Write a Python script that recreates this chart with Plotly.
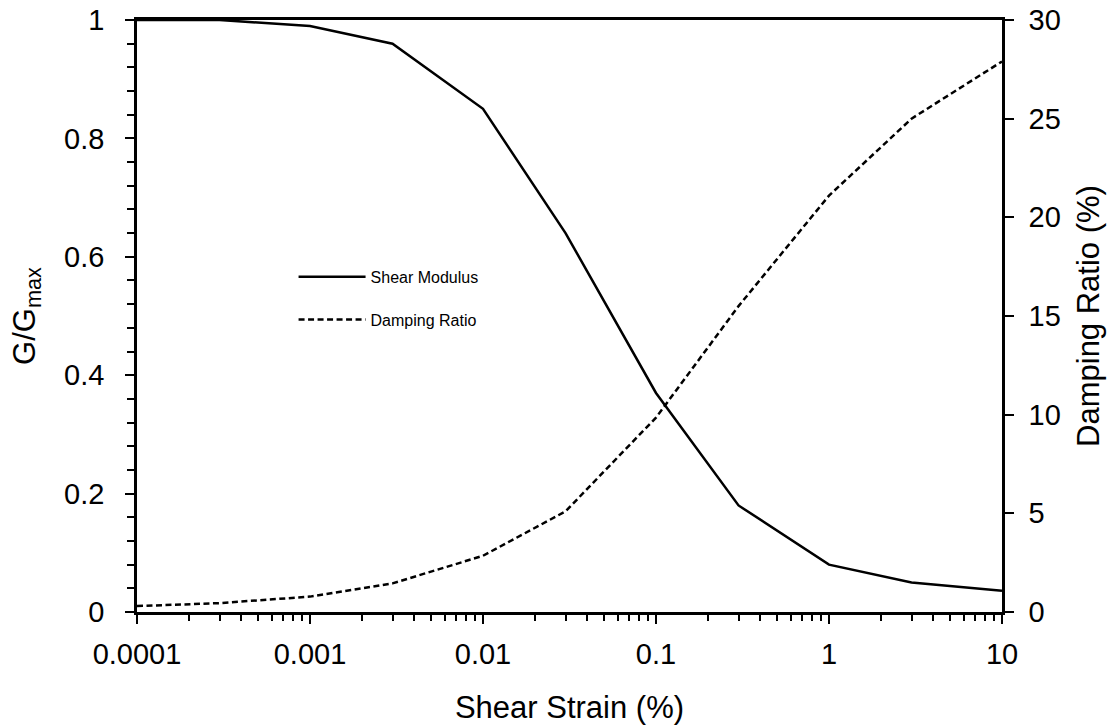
import plotly.graph_objects as go

strain = [0.0001, 0.0003, 0.001, 0.003, 0.01, 0.03, 0.1, 0.3, 1, 3, 10]
shear_modulus = [1.0, 1.0, 0.99, 0.96, 0.85, 0.64, 0.37, 0.18, 0.08, 0.05, 0.036]
damping_ratio = [0.3, 0.45, 0.78, 1.45, 2.85, 5.1, 9.85, 15.5, 21.1, 25.0, 27.9]

x_major = [0.0001, 0.001, 0.01, 0.1, 1, 10]
x_major_text = ["0.0001", "0.001", "0.01", "0.1", "1", "10"]
x_minor = [m * d for d in [0.0001, 0.001, 0.01, 0.1, 1] for m in range(2, 10)]

FONT = "Liberation Sans, Arial, sans-serif"
TITLE_FONT = dict(family=FONT, size=31, color="black")

fig = go.Figure()
fig.add_trace(go.Scatter(x=strain, y=shear_modulus, mode="lines", name="Shear Modulus",
                         line=dict(color="black", width=2.5), legendgroup="a"))
fig.add_trace(go.Scatter(x=strain, y=damping_ratio, mode="lines", name="Damping Ratio",
                         line=dict(color="black", width=2.5, dash="6px,3.5px"), yaxis="y2",
                         legendgroup="b"))

fig.update_layout(
    width=1112, height=727,
    margin=dict(l=137, r=110, t=20, b=115),
    paper_bgcolor="white", plot_bgcolor="white",
    font=dict(family=FONT, size=29, color="black"),
    showlegend=True,
    legend=dict(x=0.181, y=0.595, xanchor="left", yanchor="top",
                font=dict(size=16), bgcolor="rgba(0,0,0,0)",
                itemwidth=67, tracegroupgap=19),
    xaxis=dict(type="log", range=[-4, 1], tickvals=x_major, ticktext=x_major_text,
               ticks="outside", ticklen=9, tickwidth=2, tickcolor="black",
               showline=True, linecolor="black", linewidth=2.5, mirror=True,
               showgrid=False, zeroline=False, ticklabelstandoff=5, automargin=False,
               minor=dict(tickvals=x_minor, ticks="outside", ticklen=6, tickwidth=1.5,
                          tickcolor="black", showgrid=False),
               title=dict(text="Shear Strain (%)", standoff=28, font=TITLE_FONT)),
    yaxis=dict(range=[0, 1], tickvals=[0, 0.2, 0.4, 0.6, 0.8, 1],
               ticktext=["0", "0.2", "0.4", "0.6", "0.8", "1"],
               ticks="outside", ticklen=9, tickwidth=2, tickcolor="black",
               showline=True, linecolor="black", linewidth=2.5,
               showgrid=False, zeroline=False, ticklabelstandoff=15, automargin=False,
               minor=dict(dtick=0.04, tick0=0, ticks="outside", ticklen=7, tickwidth=1.5,
                          tickcolor="black", showgrid=False),
               title=dict(text="G/G<sub>max</sub>", standoff=20, font=TITLE_FONT)),
    yaxis2=dict(range=[0, 30], tickvals=[0, 5, 10, 15, 20, 25, 30], overlaying="y", side="right",
                ticks="outside", ticklen=9, tickwidth=2, tickcolor="black",
                showline=True, linecolor="black", linewidth=2.5,
                showgrid=False, zeroline=False, ticklabelstandoff=9, automargin=False,
                title=dict(text="Damping Ratio (%)", standoff=18, font=TITLE_FONT)),
)

fig.write_html("out.html", config={"displayModeBar": False},
               post_script="document.body.style.margin='0';document.body.style.overflow='hidden';")
